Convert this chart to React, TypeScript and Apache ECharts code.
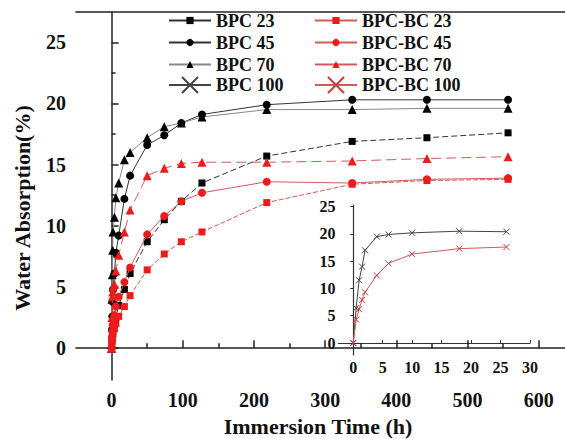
import React, { useEffect, useRef } from "react";
import * as echarts from "echarts";

// ---- data ----
const MAIN_TIME = [0, 0.5, 1, 1.5, 2, 4, 6, 10, 18, 26, 50, 74, 98, 127, 218, 338, 443, 557];
const BPC_23 = [0, 0.6, 1.0, 1.3, 1.6, 2.0, 2.5, 3.5, 4.8, 6.1, 8.7, 10.5, 12.0, 13.5, 15.7, 16.9, 17.2, 17.6];
const BPC_45 = [0, 1.5, 2.6, 3.8, 4.8, 6.1, 7.8, 9.2, 12.2, 14.1, 16.6, 17.4, 18.4, 19.1, 19.9, 20.3, 20.3, 20.3];
const BPC_70 = [0, 4.0, 6.0, 8.0, 9.5, 10.7, 12.3, 13.5, 15.4, 16.0, 17.2, 18.1, 18.4, 18.9, 19.5, 19.5, 19.6, 19.6];
const BPC_BC_23 = [0, 0.4, 0.7, 1.0, 1.2, 1.6, 2.0, 2.6, 3.4, 4.3, 6.4, 7.7, 8.7, 9.5, 11.9, 13.4, 13.7, 13.8];
const BPC_BC_45 = [0, 0.9, 1.4, 1.9, 2.3, 2.7, 3.4, 4.2, 5.4, 6.6, 9.3, 10.8, 12.0, 12.7, 13.6, 13.5, 13.8, 13.9];
const BPC_BC_70 = [0, 2.5, 4.2, 4.6, 5.0, 5.2, 6.3, 7.6, 9.5, 11.3, 14.1, 14.7, 15.1, 15.2, 15.2, 15.3, 15.5, 15.65];

const INSET_TIME = [0, 0.5, 1, 1.5, 2, 4, 6, 10, 18, 26];
const BPC_100 = [0, 6.4, 11.5, 14.0, 17.0, 19.5, 19.9, 20.2, 20.5, 20.4];
const BPC_BC_100 = [0, 4.3, 6.2, 7.9, 9.3, 12.4, 14.6, 16.3, 17.3, 17.6];

const MAIN_X_TICKS = [0, 100, 200, 300, 400, 500, 600];
const MAIN_X_MINOR = [50, 150, 250, 350, 450, 550];
const MAIN_Y_TICKS = [0, 5, 10, 15, 20, 25];
const MAIN_Y_MINOR = [2.5, 7.5, 12.5, 17.5, 22.5];
const INSET_X_TICKS = [0, 5, 10, 15, 20, 25, 30];
const INSET_Y_TICKS = [0, 5, 10, 15, 20, 25];

const X_TITLE = "Immersion Time (h)";
const Y_TITLE = "Water Absorption(%)";

const SERIF = "'Times New Roman', 'Liberation Serif', serif";
const AXIS_COLOR = "#222";
const RED = "#ec1c1c";
const RED_LINE = "#d25a5a";
const X_SYMBOL = "path://M0,0L10,10M10,0L0,10";

const pairs = (xs: number[], ys: number[]) => xs.map((x, i) => [x, ys[i]]);

export default function App() {
  const ref = useRef<HTMLDivElement>(null);

  useEffect(() => {
    if (!ref.current) return;
    const chart = echarts.init(ref.current, undefined, { renderer: "svg" });

    const mainSeries = (
      name: string,
      ys: number[],
      symbol: string,
      size: number,
      color: string,
      lineColor: string,
      dash: any
    ) => ({
      name,
      type: "line",
      xAxisIndex: 0,
      yAxisIndex: 0,
      data: pairs(MAIN_TIME, ys),
      symbol,
      symbolSize: size,
      showSymbol: true,
      itemStyle: { color },
      lineStyle: { color: lineColor, width: 1, type: dash },
      z: color === RED ? 4 : 3,
    });

    const legendText = { fontFamily: SERIF, fontWeight: "bold", fontSize: 18, color: "#111" };

    const option: any = {
      animation: false,
      grid: [
        { left: 76, top: 11.7, width: 489, height: 368.3 },
        { left: 338.5, top: 205, width: 191.5, height: 150 },
      ],
      xAxis: [
        {
          type: "value",
          gridIndex: 0,
          min: -50,
          max: 637,
          position: "bottom",
          axisLine: { show: true, lineStyle: { color: AXIS_COLOR, width: 1.5 } },
          axisTick: { show: true, inside: true, length: 8, customValues: MAIN_X_TICKS, lineStyle: { color: AXIS_COLOR, width: 1.5 } },
          axisLabel: { customValues: MAIN_X_TICKS, margin: 10, fontFamily: SERIF, fontWeight: "bold", fontSize: 20, color: "#111" },
          splitLine: { show: false },
        },
        {
          type: "value",
          gridIndex: 0,
          min: -50,
          max: 637,
          position: "bottom",
          axisLine: { show: false },
          axisTick: { show: true, inside: true, length: 5, customValues: MAIN_X_MINOR, lineStyle: { color: AXIS_COLOR, width: 1.5 } },
          axisLabel: { show: false },
          splitLine: { show: false },
        },
        {
          type: "value",
          gridIndex: 0,
          min: -50,
          max: 637,
          position: "top",
          axisLine: { show: true, lineStyle: { color: AXIS_COLOR, width: 1.5 } },
          axisTick: { show: false },
          axisLabel: { show: false },
          splitLine: { show: false },
        },
        {
          type: "value",
          gridIndex: 1,
          min: -2.5,
          max: 30,
          position: "bottom",
          axisLine: { show: true, lineStyle: { color: "#333", width: 1.2 } },
          axisTick: { show: true, inside: true, length: 3, customValues: INSET_X_TICKS, lineStyle: { color: "#333" } },
          axisLabel: { customValues: INSET_X_TICKS, margin: 4, fontFamily: SERIF, fontWeight: "bold", fontSize: 16, color: "#111", showMaxLabel: true, showMinLabel: true },
          splitLine: { show: false },
        },
      ],
      yAxis: [
        {
          type: "value",
          gridIndex: 0,
          min: -2.6,
          max: 27.5,
          position: "left",
          axisLine: { show: true, lineStyle: { color: AXIS_COLOR, width: 1.5 } },
          axisTick: { show: true, inside: true, length: 7, customValues: MAIN_Y_TICKS, lineStyle: { color: AXIS_COLOR, width: 1.5 } },
          axisLabel: { customValues: MAIN_Y_TICKS, margin: 10, fontFamily: SERIF, fontWeight: "bold", fontSize: 20, color: "#111" },
          splitLine: { show: false },
        },
        {
          type: "value",
          gridIndex: 0,
          min: -2.6,
          max: 27.5,
          position: "left",
          axisLine: { show: false },
          axisTick: { show: true, inside: true, length: 4, customValues: MAIN_Y_MINOR, lineStyle: { color: AXIS_COLOR, width: 1.5 } },
          axisLabel: { show: false },
          splitLine: { show: false },
        },
        {
          type: "value",
          gridIndex: 1,
          min: -2.2,
          max: 25.3,
          position: "left",
          axisLine: { show: true, lineStyle: { color: "#333", width: 1.2 } },
          axisTick: { show: true, inside: false, length: 3, customValues: INSET_Y_TICKS, lineStyle: { color: "#333" } },
          axisLabel: { customValues: INSET_Y_TICKS, margin: 3, fontFamily: SERIF, fontWeight: "bold", fontSize: 16, color: "#111", showMaxLabel: true, showMinLabel: true, hideOverlap: false },
          splitLine: { show: false },
        },
      ],
      legend: [
        {
          data: ["BPC 23", "BPC 45", "BPC 70"],
          orient: "vertical",
          left: 168,
          top: 11.5,
          itemWidth: 42,
          itemHeight: 9,
          itemGap: 4,
          padding: 0,
          textStyle: legendText,
          lineStyle: { type: "solid" },
          selectedMode: false,
        },
        {
          data: ["BPC 100"],
          orient: "vertical",
          left: 168,
          top: 76,
          itemWidth: 42,
          itemHeight: 20,
          padding: 0,
          textStyle: legendText,
          lineStyle: { type: "solid" },
          selectedMode: false,
        },
        {
          data: ["BPC-BC 23", "BPC-BC 45", "BPC-BC 70"],
          orient: "vertical",
          left: 314,
          top: 11.5,
          itemWidth: 42,
          itemHeight: 9,
          itemGap: 4,
          padding: 0,
          textStyle: legendText,
          lineStyle: { type: "solid" },
          selectedMode: false,
        },
        {
          data: ["BPC-BC 100"],
          orient: "vertical",
          left: 314,
          top: 76,
          itemWidth: 42,
          itemHeight: 20,
          padding: 0,
          textStyle: legendText,
          lineStyle: { type: "solid" },
          selectedMode: false,
        },
      ],
      series: [
        mainSeries("BPC 23", BPC_23, "rect", 7, "#000", "#333", [6, 3]),
        mainSeries("BPC 45", BPC_45, "circle", 8, "#000", "#333", "solid"),
        mainSeries("BPC 70", BPC_70, "triangle", 9, "#000", "#888", "solid"),
        mainSeries("BPC-BC 23", BPC_BC_23, "rect", 7, RED, RED_LINE, [5, 2]),
        mainSeries("BPC-BC 45", BPC_BC_45, "circle", 8, RED, RED_LINE, "solid"),
        mainSeries("BPC-BC 70", BPC_BC_70, "triangle", 9, RED, RED_LINE, [10, 5]),
        {
          name: "BPC 100",
          type: "line",
          xAxisIndex: 3,
          yAxisIndex: 2,
          data: pairs(INSET_TIME, BPC_100),
          symbol: X_SYMBOL,
          symbolSize: 6,
          itemStyle: { color: "rgba(0,0,0,0)", borderColor: "#444", borderWidth: 1 },
          lineStyle: { color: "#444", width: 1 },
        },
        {
          name: "BPC-BC 100",
          type: "line",
          xAxisIndex: 3,
          yAxisIndex: 2,
          data: pairs(INSET_TIME, BPC_BC_100),
          symbol: X_SYMBOL,
          symbolSize: 6,
          itemStyle: { color: "rgba(0,0,0,0)", borderColor: "#c83c3c", borderWidth: 1 },
          lineStyle: { color: "#cf5b5b", width: 1 },
        },
      ],
      graphic: [
        {
          type: "text",
          x: 318,
          y: 426,
          style: {
            text: X_TITLE,
            font: `bold 22px ${SERIF}`,
            fill: "#111",
            textAlign: "center",
            textVerticalAlign: "middle",
          },
        },
        {
          type: "text",
          x: 22,
          y: 208,
          rotation: Math.PI / 2,
          style: {
            text: Y_TITLE,
            font: `bold 22px ${SERIF}`,
            fill: "#111",
            textAlign: "center",
            textVerticalAlign: "middle",
          },
        },
      ],
    };

    chart.setOption(option);
    return () => chart.dispose();
  }, []);

  return (
    <div
      ref={ref}
      style={{ position: "fixed", left: 0, top: 0, width: 565, height: 439, background: "#fff" }}
    />
  );
}
